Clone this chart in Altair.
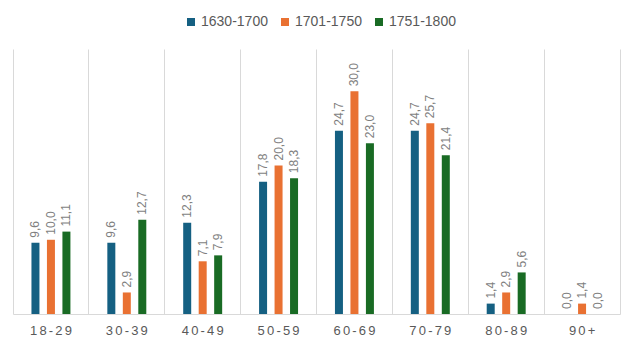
import altair as alt
import pandas as pd

categories = ["18-29", "30-39", "40-49", "50-59", "60-69", "70-79", "80-89", "90+"]
series = ["1630-1700", "1701-1750", "1751-1800"]
v_1630_1700 = [9.6, 9.6, 12.3, 17.8, 24.7, 24.7, 1.4, 0.0]
v_1701_1750 = [10.0, 2.9, 7.1, 20.0, 30.0, 25.7, 2.9, 1.4]
v_1751_1800 = [11.1, 12.7, 7.9, 18.3, 23.0, 21.4, 5.6, 0.0]
colors = ["#156082", "#E97132", "#196B24"]

rows = []
for s, vals in zip(series, [v_1630_1700, v_1701_1750, v_1751_1800]):
    for c, v in zip(categories, vals):
        rows.append({"age": c, "period": s, "value": v,
                     "label": f"{v:.1f}".replace(".", ",")})
df = pd.DataFrame(rows)

x = alt.X("age:N", sort=categories, title=None,
          scale=alt.Scale(paddingInner=0, paddingOuter=0),
          axis=alt.Axis(bandPosition=0, grid=True, gridColor="#d9d9d9", gridWidth=1,
                        ticks=False, domainColor="#d9d9d9", domainWidth=1,
                        labelFont="Liberation Sans", labelFontSize=13, labelColor="#595959",
                        labelPadding=10, labelAngle=0,
                        labelExpr="join(split(datum.label, ''), '\u2006')"))
xo = alt.XOffset("period:N", sort=series,
                 scale=alt.Scale(paddingInner=0.1, paddingOuter=1))
y = alt.Y("value:Q", title=None,
          scale=alt.Scale(domain=[0, 35.7], nice=False, zero=True),
          axis=alt.Axis(labels=False, ticks=False, grid=False, domain=True,
                        domainColor="#d9d9d9", domainWidth=1, title=None))
color = alt.Color("period:N", sort=series,
                  scale=alt.Scale(domain=series, range=colors),
                  legend=alt.Legend(title=None, orient="none", direction="horizontal",
                                    legendX=171, legendY=-34, symbolType="square",
                                    symbolSize=64, symbolStrokeWidth=0,
                                    labelFont="Liberation Sans", labelFontSize=14,
                                    labelColor="#595959", columnPadding=10,
                                    labelOffset=3, symbolOpacity=1))

bars = alt.Chart(df).mark_bar(opacity=1, width=8).encode(x=x, xOffset=xo, y=y, color=color)

labels = alt.Chart(df).mark_text(angle=270, align="left", baseline="middle", dx=5,
                                 font="Liberation Sans", fontSize=12,
                                 color="#7f7f7f").encode(
    x=alt.X("age:N", sort=categories), xOffset=xo, y="value:Q", text="label:N")

right_axis = alt.Chart(df).mark_rule(opacity=0).encode(
    y=alt.Y("value:Q", scale=alt.Scale(domain=[0, 35.7], nice=False),
            axis=alt.Axis(orient="right", labels=False, ticks=False, grid=False,
                          domain=True, domainColor="#d9d9d9", title=None)))

chart = alt.layer(bars, labels, right_axis).resolve_scale(y="shared").properties(
    width=607, height=265,
    padding={"left": 13, "top": 49, "right": 15, "bottom": 31},
    autosize=alt.AutoSizeParams(type="none"),
).configure_view(stroke=None).configure_axis(labelFont="Liberation Sans")

chart.save("out.html", embed_options={"renderer": "svg", "actions": False})
